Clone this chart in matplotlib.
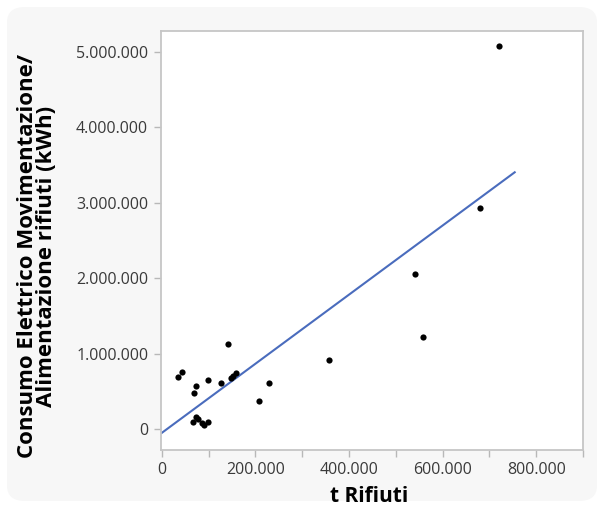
import matplotlib
matplotlib.use("Agg")
import matplotlib.pyplot as plt
from matplotlib.patches import FancyBboxPatch
from matplotlib.ticker import FuncFormatter, MultipleLocator, FixedLocator
import numpy as np

# Tonnes of waste handled per site and electricity used for moving/feeding waste
t_rifiuti = [35400, 44000, 140800, 73200, 68300, 99400, 125900, 147200, 152700,
             159100, 228900, 207600, 67400, 73200, 78100, 86600, 90200, 99400,
             356300, 540400, 558100, 680500, 720200]
consumo_kwh = [684000, 751000, 1131000, 565000, 477000, 654000, 610000, 676000,
               707000, 743000, 610000, 375000, 93000, 159000, 133000, 80000,
               53000, 88000, 919000, 2056000, 1220000, 2926000, 5083000]

# Linear fit shown over the data
fit_intercept = -54000
fit_slope = 4.587
fit_x_range = [0, 754000]

x_ticks = [0, 200000, 400000, 600000, 800000]
y_ticks = [0, 1000000, 2000000, 3000000, 4000000, 5000000]

plt.rcParams['font.family'] = ['Open Sans', 'DejaVu Sans']

W, H = 602, 508
fig = plt.figure(figsize=(W / 100, H / 100), dpi=100)
fig.patch.set_facecolor('white')

# Rounded light-grey card behind the chart
card = FancyBboxPatch((7 / W, 7 / H), 590 / W, 494 / H,
                      boxstyle="round,pad=0,rounding_size=0.03",
                      transform=fig.transFigure, facecolor='#f7f7f7',
                      edgecolor='none', zorder=-10)
fig.add_artist(card)

ax = fig.add_axes([160.7 / W, 1 - 450 / H, (583.3 - 160.7) / W, (450 - 30.7) / H])
ax.set_zorder(5)
ax.set_facecolor('white')

ax.set_xlim(-2100, 900500)
ax.set_ylim(-280000, 5283000)

fx = np.array(fit_x_range, dtype=float)
ax.plot(fx, fit_intercept + fit_slope * fx, color='#4a6cbd', lw=1.5, zorder=2)
ax.scatter(t_rifiuti, consumo_kwh, s=20, color='black', zorder=3, linewidths=0)

def thousands(v, pos):
    return f"{int(round(v)):,}".replace(",", ".")

ax.xaxis.set_major_locator(MultipleLocator(100000))
ax.xaxis.set_major_formatter(FuncFormatter(
    lambda v, p: thousands(v, p) if int(round(v)) in x_ticks else ""))
ax.yaxis.set_major_locator(FixedLocator(y_ticks))
ax.yaxis.set_major_formatter(FuncFormatter(thousands))

for s in ax.spines.values():
    s.set_color('#c6c6c6')
    s.set_linewidth(1.3)

ax.tick_params(axis='both', colors='#b8b8b8', length=5, width=1,
               labelcolor='#3a3a3a', labelsize=11.5, pad=4)

# Axis titles placed on the figure
fig.text(369 / W, 1 - 507 / H, 't Rifiuti', fontsize=15, fontweight='bold',
         color='black', ha='center', va='bottom')
fig.text(37 / W, 1 - 256 / H,
         'Consumo Elettrico Movimentazione/\nAlimentazione rifiuti (kWh)',
         fontsize=16, fontweight='bold', color='black', rotation=90,
         ha='center', va='center', multialignment='center', linespacing=0.85)

fig.savefig('out.png', dpi=100, facecolor=fig.get_facecolor())
